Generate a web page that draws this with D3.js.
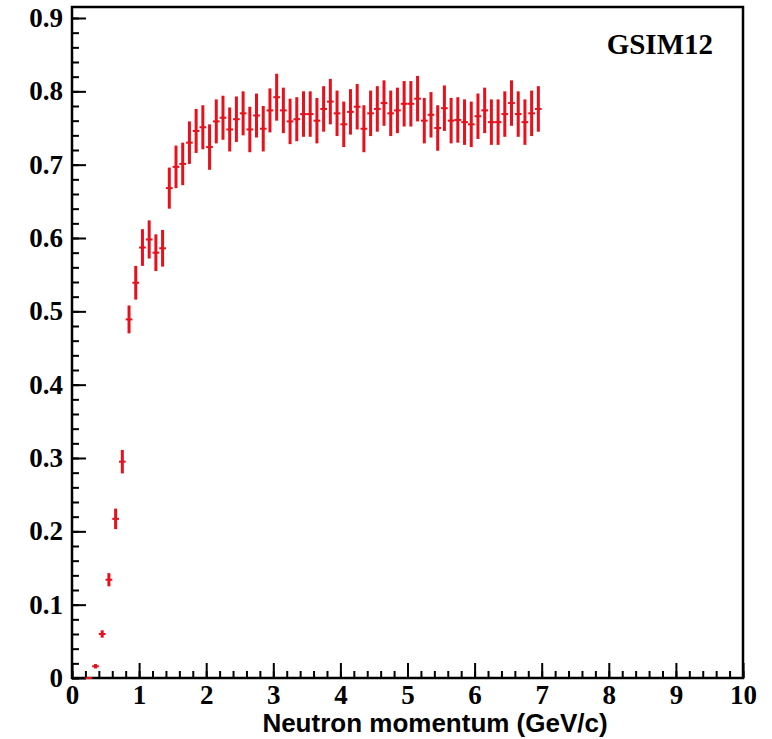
<!DOCTYPE html>
<html>
<head>
<meta charset="utf-8">
<script src="https://cdn.jsdelivr.net/npm/d3@7"></script>
<style>
  body { margin: 0; background: #fff; }
  svg { display: block; }
</style>
</head>
<body>
<svg id="fig" width="772" height="739"></svg>
<script>

// bin centres (GeV/c), efficiency and its error
var momentum = [0.25, 0.35, 0.45, 0.55, 0.65, 0.75, 0.85, 0.95,
                1.05, 1.15, 1.25, 1.35, 1.45, 1.55, 1.65, 1.75, 1.85, 1.95,
                2.05, 2.15, 2.25, 2.35, 2.45, 2.55, 2.65, 2.75, 2.85, 2.95,
                3.05, 3.15, 3.25, 3.35, 3.45, 3.55, 3.65, 3.75, 3.85, 3.95,
                4.05, 4.15, 4.25, 4.35, 4.45, 4.55, 4.65, 4.75, 4.85, 4.95,
                5.05, 5.15, 5.25, 5.35, 5.45, 5.55, 5.65, 5.75, 5.85, 5.95,
                6.05, 6.15, 6.25, 6.35, 6.45, 6.55, 6.65, 6.75, 6.85, 6.95];
var efficiency = [0, 0.016, 0.060, 0.134, 0.217, 0.295, 0.489, 0.539,
                  0.587, 0.598, 0.580, 0.586, 0.668, 0.697, 0.701, 0.730, 0.746, 0.751,
                  0.724, 0.759, 0.764, 0.748, 0.762, 0.770, 0.748, 0.767, 0.749, 0.774,
                  0.792, 0.774, 0.759, 0.762, 0.769, 0.769, 0.760, 0.776, 0.786, 0.770,
                  0.755, 0.772, 0.779, 0.749, 0.770, 0.776, 0.784, 0.770, 0.774, 0.783,
                  0.783, 0.790, 0.760, 0.768, 0.750, 0.777, 0.760, 0.761, 0.758, 0.755,
                  0.766, 0.774, 0.758, 0.758, 0.769, 0.784, 0.769, 0.758, 0.770, 0.776];
var errors = [0, 0.003, 0.005, 0.009, 0.014, 0.016, 0.019, 0.023,
              0.025, 0.026, 0.025, 0.025, 0.028, 0.029, 0.029, 0.029, 0.030, 0.030,
              0.031, 0.030, 0.030, 0.030, 0.031, 0.030, 0.031, 0.030, 0.031, 0.030,
              0.032, 0.031, 0.031, 0.030, 0.031, 0.031, 0.031, 0.031, 0.031, 0.031,
              0.031, 0.031, 0.031, 0.032, 0.031, 0.031, 0.031, 0.031, 0.031, 0.031,
              0.031, 0.031, 0.031, 0.031, 0.031, 0.031, 0.031, 0.031, 0.031, 0.031,
              0.031, 0.031, 0.031, 0.031, 0.031, 0.031, 0.031, 0.031, 0.031, 0.031];
var binWidth = 0.1;
var emptyRange = [7, 10];   // bins with zero content
var xTicks = [0, 1, 2, 3, 4, 5, 6, 7, 8, 9, 10];
var yTicks = [0, 0.1, 0.2, 0.3, 0.4, 0.5, 0.6, 0.7, 0.8, 0.9];
var xTitle = "Neutron momentum (GeV/c)";
var label = "GSIM12";

function draw(){
    var svg = d3.select("#fig");
    var pLeft = 72, pRight = 743, pTop = 7, pBottom = 678;

    var x = d3.scaleLinear().domain([0, 10]).range([pLeft, pRight]);
    var y = d3.scaleLinear().domain([0, 0.915]).range([pBottom, pTop]);

    var red = "#e8101a";

    // minor ticks first
    svg.append("g")
        .attr("transform", "translate(0," + pBottom + ")")
        .call(d3.axisBottom(x).tickValues(d3.range(0, 10.001, 0.2)).tickSizeInner(-7).tickSizeOuter(0).tickFormat(""))
        .call(function(g){ g.select(".domain").remove(); g.selectAll("line").attr("stroke-width", 2); });
    svg.append("g")
        .attr("transform", "translate(" + pLeft + ",0)")
        .call(d3.axisLeft(y).tickValues(d3.range(0, 0.91, 0.02)).tickSizeInner(-7).tickSizeOuter(0).tickFormat(""))
        .call(function(g){ g.select(".domain").remove(); g.selectAll("line").attr("stroke-width", 2); });

    // major ticks and labels
    var xa = svg.append("g")
        .attr("transform", "translate(0," + pBottom + ")")
        .call(d3.axisBottom(x).tickValues(xTicks).tickSizeInner(-15).tickSizeOuter(0).tickPadding(7).tickFormat(d3.format("d")));
    xa.select(".domain").remove();
    xa.selectAll("line").attr("stroke-width", 2);
    xa.selectAll("text")
        .attr("font-family", "Liberation Serif")
        .attr("font-weight", "bold")
        .attr("font-size", 27)
        .attr("fill", "#000");

    var ya = svg.append("g")
        .attr("transform", "translate(" + pLeft + ",0)")
        .call(d3.axisLeft(y).tickValues(yTicks).tickSizeInner(-14).tickSizeOuter(0).tickPadding(9)
              .tickFormat(function(d){ return d == 0 ? "0" : d3.format(".1f")(d); }));
    ya.select(".domain").remove();
    ya.selectAll("line").attr("stroke-width", 2);
    ya.selectAll("text")
        .attr("font-family", "Liberation Serif")
        .attr("font-weight", "bold")
        .attr("font-size", 27)
        .attr("fill", "#000");

    // zero bins along the axis
    svg.append("line")
        .attr("x1", x(emptyRange[0])).attr("x2", x(emptyRange[1]))
        .attr("y1", y(0)).attr("y2", y(0))
        .attr("stroke", "#8a1818").attr("stroke-width", 2);

    // frame
    svg.append("rect")
        .attr("x", pLeft).attr("y", pTop)
        .attr("width", pRight - pLeft).attr("height", pBottom - pTop)
        .attr("fill", "none").attr("stroke", "#000").attr("stroke-width", 2.5);

    // data points with error bars
    var pts = svg.append("g").selectAll("g")
        .data(momentum.map(function(p, i){ return {p: p, v: efficiency[i], e: errors[i]}; }))
        .enter().append("g");

    pts.append("line")
        .attr("x1", function(d){ return x(d.p - binWidth / 2); })
        .attr("x2", function(d){ return x(d.p + binWidth / 2); })
        .attr("y1", function(d){ return y(d.v); })
        .attr("y2", function(d){ return y(d.v); })
        .attr("stroke", red).attr("stroke-width", 2);

    pts.filter(function(d){ return d.e > 0; }).append("line")
        .attr("x1", function(d){ return x(d.p); })
        .attr("x2", function(d){ return x(d.p); })
        .attr("y1", function(d){ return y(d.v - d.e); })
        .attr("y2", function(d){ return y(d.v + d.e); })
        .attr("stroke", red).attr("stroke-width", 3);

    // labels
    svg.append("text")
        .attr("x", 713).attr("y", 54)
        .attr("text-anchor", "end")
        .attr("font-family", "Liberation Serif")
        .attr("font-weight", "bold")
        .attr("font-size", 29)
        .text(label);

    svg.append("text")
        .attr("x", 435).attr("y", 732)
        .attr("text-anchor", "middle")
        .attr("font-family", "Liberation Sans")
        .attr("font-weight", "bold")
        .attr("font-size", 26)
        .text(xTitle);
}

draw();

</script>
</body>
</html>
